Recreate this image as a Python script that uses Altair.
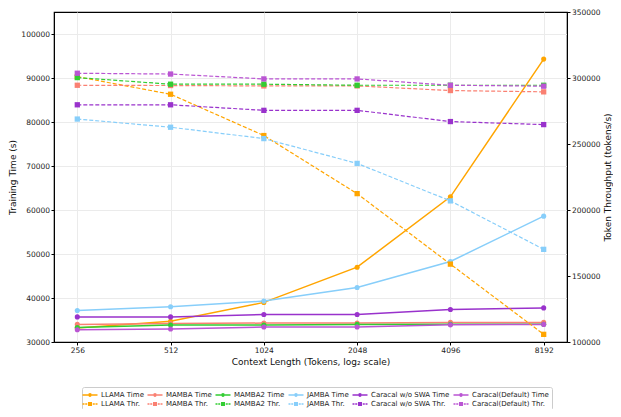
import altair as alt
import pandas as pd

ctx = [256, 512, 1024, 2048, 4096, 8192]
models = ["LLAMA", "MAMBA", "MAMBA2", "JAMBA", "Caracal w/o SWA", "Caracal(Default)"]
colors = ["#FFA500", "#FA8072", "#32CD32", "#87CEFA", "#9932CC", "#BA55D3"]

time_llama = [33200, 34700, 39000, 47000, 63000, 94300]
time_mamba = [34000, 34200, 34300, 34300, 34450, 34450]
time_mamba2 = [33300, 33850, 33850, 34000, 34050, 34050]
time_jamba = [37150, 38000, 39300, 42400, 48300, 58600]
time_caracal_noswa = [35700, 35700, 36250, 36250, 37400, 37750]
time_caracal_def = [32800, 32950, 33400, 33400, 33900, 34000]

thr_llama = [301000, 287700, 256400, 212400, 159000, 105800]
thr_mamba = [294500, 294300, 294000, 294000, 290500, 289500]
thr_mamba2 = [300300, 295300, 295300, 294500, 294500, 294500]
thr_jamba = [268900, 262700, 254100, 235300, 206900, 170200]
thr_caracal_noswa = [279700, 279700, 275500, 275500, 267000, 264700]
thr_caracal_def = [303600, 303000, 299300, 299300, 294500, 293800]

time_vals = [time_llama, time_mamba, time_mamba2, time_jamba, time_caracal_noswa, time_caracal_def]
thr_vals = [thr_llama, thr_mamba, thr_mamba2, thr_jamba, thr_caracal_noswa, thr_caracal_def]

time_rows, thr_rows = [], []
for m, tv, hv in zip(models, time_vals, thr_vals):
    for c, t, h in zip(ctx, tv, hv):
        time_rows.append({"series": f"{m} Time", "ctx": c, "value": t})
        thr_rows.append({"series": f"{m} Thr.", "ctx": c, "value": h})
time_df = pd.DataFrame(time_rows)
thr_df = pd.DataFrame(thr_rows)

domain = [f"{m} Time" for m in models] + [f"{m} Thr." for m in models]
color_range = colors + colors
opacity_range = [1.0] * 6 + [0.65] * 6

time_path = ("M-1.5,-0.15H-0.38V0.15H-1.5Z M0.38,-0.15H1.5V0.15H0.38Z "
             "M0.38,0A0.38,0.38 0 1,1 -0.38,0A0.38,0.38 0 1,1 0.38,0Z")
thr_path = ("M-1.5,-0.15H-1.1V0.15H-1.5Z M-0.95,-0.15H-0.55V0.15H-0.95Z "
            "M-0.4,-0.4H0.4V0.4H-0.4Z "
            "M0.55,-0.15H0.95V0.15H0.55Z M1.1,-0.15H1.5V0.15H1.1Z")
shape_range = [time_path] * 6 + [thr_path] * 6

FONT = "DejaVu Sans"
legend = alt.Legend(
    title=None, orient="none", legendX=28, legendY=375, columns=6,
    direction="horizontal", labelFontSize=7, labelFont=FONT, labelColor="#222",
    symbolSize=100, labelOffset=6, columnPadding=3, rowPadding=1,
    strokeColor="#cccccc", padding=3, cornerRadius=2, fillColor="white",
    symbolStrokeWidth=0,
)

color_enc = alt.Color("series:N", scale=alt.Scale(domain=domain, range=color_range), legend=legend)
opacity_enc = alt.Opacity("series:N", scale=alt.Scale(domain=domain, range=opacity_range), legend=legend)

x_enc = alt.X("ctx:Q",
              scale=alt.Scale(type="log", base=2, domain=[215.3, 9742], nice=False),
              axis=alt.Axis(values=ctx, title="Context Length (Tokens, log₂ scale)",
                            grid=True, gridColor="#ebebeb", format="d"))

time_y = alt.Y("value:Q", scale=alt.Scale(domain=[30000, 105000], nice=False, zero=False),
               axis=alt.Axis(title="Training Time (s)", values=list(range(30000, 100001, 10000)),
                             format="d", grid=True, gridColor="#ebebeb", orient="left"))
thr_y = alt.Y("value:Q", scale=alt.Scale(domain=[100000, 350000], nice=False, zero=False),
              axis=alt.Axis(title="Token Throughput (tokens/s)", values=list(range(100000, 350001, 50000)),
                            format="d", grid=False, orient="right", titleAngle=270,
                            titleBaseline="top"))

time_base = alt.Chart(time_df).encode(x=x_enc, y=time_y, color=color_enc, opacity=opacity_enc, detail="series:N")
time_layer = alt.layer(
    time_base.mark_line(strokeWidth=1.5),
    time_base.mark_point(shape="circle", filled=True, size=26, strokeWidth=0),
)

thr_base = alt.Chart(thr_df).encode(x=x_enc, y=thr_y, color=color_enc, opacity=opacity_enc, detail="series:N")
thr_layer = alt.layer(
    thr_base.mark_line(strokeWidth=1.2, strokeDash=[4, 2]),
    thr_base.mark_point(shape="square", filled=True, size=28, strokeWidth=0),
)

legend_layer = alt.Chart(time_df).transform_filter("false").mark_point(filled=True).encode(
    color=color_enc,
    opacity=opacity_enc,
    shape=alt.Shape("series:N", scale=alt.Scale(domain=domain, range=shape_range), legend=legend),
)

chart = alt.layer(time_layer, thr_layer, legend_layer).resolve_scale(y="independent").properties(
    width=513, height=330,
    autosize=alt.AutoSizeParams(type="none"),
    padding={"left": 46, "top": 4, "right": 46, "bottom": 67},
).configure_view(stroke="black", strokeWidth=1.2).configure_axis(
    labelFont=FONT, titleFont=FONT, labelFontSize=7.5, titleFontSize=9,
    titleFontWeight="normal", labelColor="#222", titleColor="#111",
    domainColor="black", tickColor="black", tickSize=3, labelPadding=1.5,
    titlePadding=3,
)

chart.save("out.html", embed_options={"renderer": "svg", "actions": False})
